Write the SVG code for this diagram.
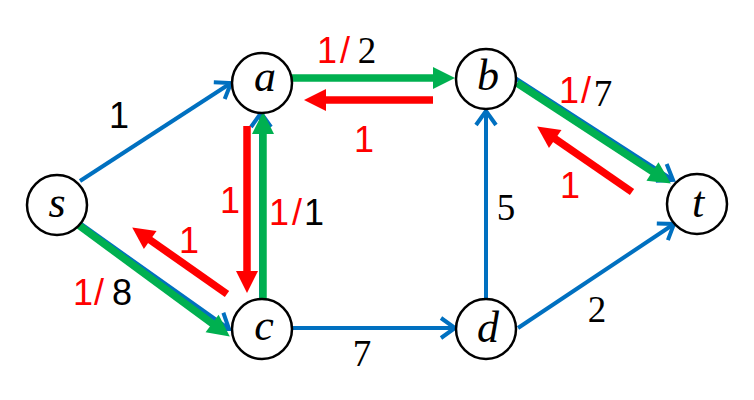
<svg xmlns="http://www.w3.org/2000/svg" width="754" height="400" viewBox="0 0 754 400">
<style>
.blue{stroke:#0070C0;stroke-width:4;fill:none;marker-end:url(#chev)}
.green{stroke:#00B050;stroke-width:7.5;fill:none;marker-end:url(#gh)}
.red{stroke:#FF0000;stroke-width:7.5;fill:none;marker-end:url(#rh)}
.node circle{fill:#fff;stroke:#000;stroke-width:2.5}
.node text{font-family:"Liberation Serif","DejaVu Serif",serif;font-style:italic;font-size:44px;text-anchor:middle;fill:#000}
.lbl{font-family:"Liberation Sans","Open Sans",sans-serif;font-size:36px;text-anchor:middle}
.ser{font-family:"Liberation Serif","DejaVu Serif",serif;font-size:37px;text-anchor:middle;fill:#000}
.r{fill:#FF0000}
.k{fill:#000}
</style>
<defs>
<marker id="chev" markerUnits="userSpaceOnUse" markerWidth="30" markerHeight="30" viewBox="-20 -15 30 30" refX="0" refY="0" orient="auto">
<path d="M-14,-10 L0,0 L-14,10" fill="none" stroke="#0070C0" stroke-width="4"/>
</marker>
<marker id="gh" markerUnits="userSpaceOnUse" markerWidth="30" markerHeight="30" viewBox="-2 -15 30 30" refX="1" refY="0" orient="auto">
<path d="M0,-11 L22,0 L0,11 Z" fill="#00B050"/>
</marker>
<marker id="rh" markerUnits="userSpaceOnUse" markerWidth="30" markerHeight="30" viewBox="-2 -15 30 30" refX="1" refY="0" orient="auto">
<path d="M0,-11 L22,0 L0,11 Z" fill="#FF0000"/>
</marker>
</defs>
<rect width="754" height="400" fill="#fff"/>
<g id="connectors">
<line class="blue" x1="80" y1="181" x2="231" y2="83"/>
<line class="blue" x1="74" y1="219" x2="229" y2="329"/>
<line class="blue" x1="261" y1="298" x2="261" y2="113"/>
<line class="blue" x1="293" y1="328" x2="455" y2="328"/>
<line class="blue" x1="486" y1="298" x2="486" y2="111"/>
<line class="blue" x1="518" y1="328" x2="674" y2="224"/>
<line class="blue" x1="515" y1="78" x2="673" y2="180"/>
<line class="green" x1="73" y1="221" x2="212.9" y2="324.1"/>
<line class="green" x1="263" y1="299" x2="263" y2="133"/>
<line class="green" x1="286" y1="78" x2="434" y2="78"/>
<line class="green" x1="517" y1="83" x2="653.3" y2="172.1"/>
<line class="red" x1="433" y1="100" x2="325" y2="100"/>
<line class="red" x1="247" y1="126" x2="247" y2="272"/>
<line class="red" x1="227" y1="294" x2="149.4" y2="239.5"/>
<line class="red" x1="632" y1="192" x2="554.4" y2="138.4"/>
</g>
<g id="labels">
<text class="lbl k" x="119" y="128">1</text>
<text class="lbl r" x="327" y="63">1</text>
<text class="lbl r" x="345" y="63">/</text>
<text class="ser" x="367" y="63">2</text>
<text class="lbl r" x="364" y="152">1</text>
<text class="lbl r" x="230" y="213">1</text>
<text class="lbl r" x="279" y="225">1</text>
<text class="lbl r" x="297" y="225">/</text>
<text class="lbl k" x="314" y="225">1</text>
<text class="lbl r" x="189" y="253">1</text>
<text class="lbl r" x="83" y="305">1</text>
<text class="lbl r" x="99" y="305">/</text>
<text class="lbl k" x="122" y="305">8</text>
<text class="lbl r" x="569" y="103">1</text>
<text class="lbl r" x="586" y="103">/</text>
<text class="ser" x="603" y="106">7</text>
<text class="lbl r" x="570" y="198">1</text>
<text class="ser" x="506" y="220">5</text>
<text class="ser" x="362" y="366">7</text>
<text class="ser" x="597" y="322">2</text>
</g>
<g id="node-s" class="node"><circle cx="57" cy="205" r="30"/><text x="57" y="217">s</text></g>
<g id="node-a" class="node"><circle cx="262" cy="83" r="30"/><text x="265" y="91">a</text></g>
<g id="node-b" class="node"><circle cx="486" cy="79" r="30"/><text x="488" y="90">b</text></g>
<g id="node-c" class="node"><circle cx="262" cy="329" r="30"/><text x="264" y="340">c</text></g>
<g id="node-d" class="node"><circle cx="486" cy="329" r="30"/><text x="488" y="342">d</text></g>
<g id="node-t" class="node"><circle cx="697" cy="204" r="30"/><text x="698" y="217">t</text></g>
</svg>
